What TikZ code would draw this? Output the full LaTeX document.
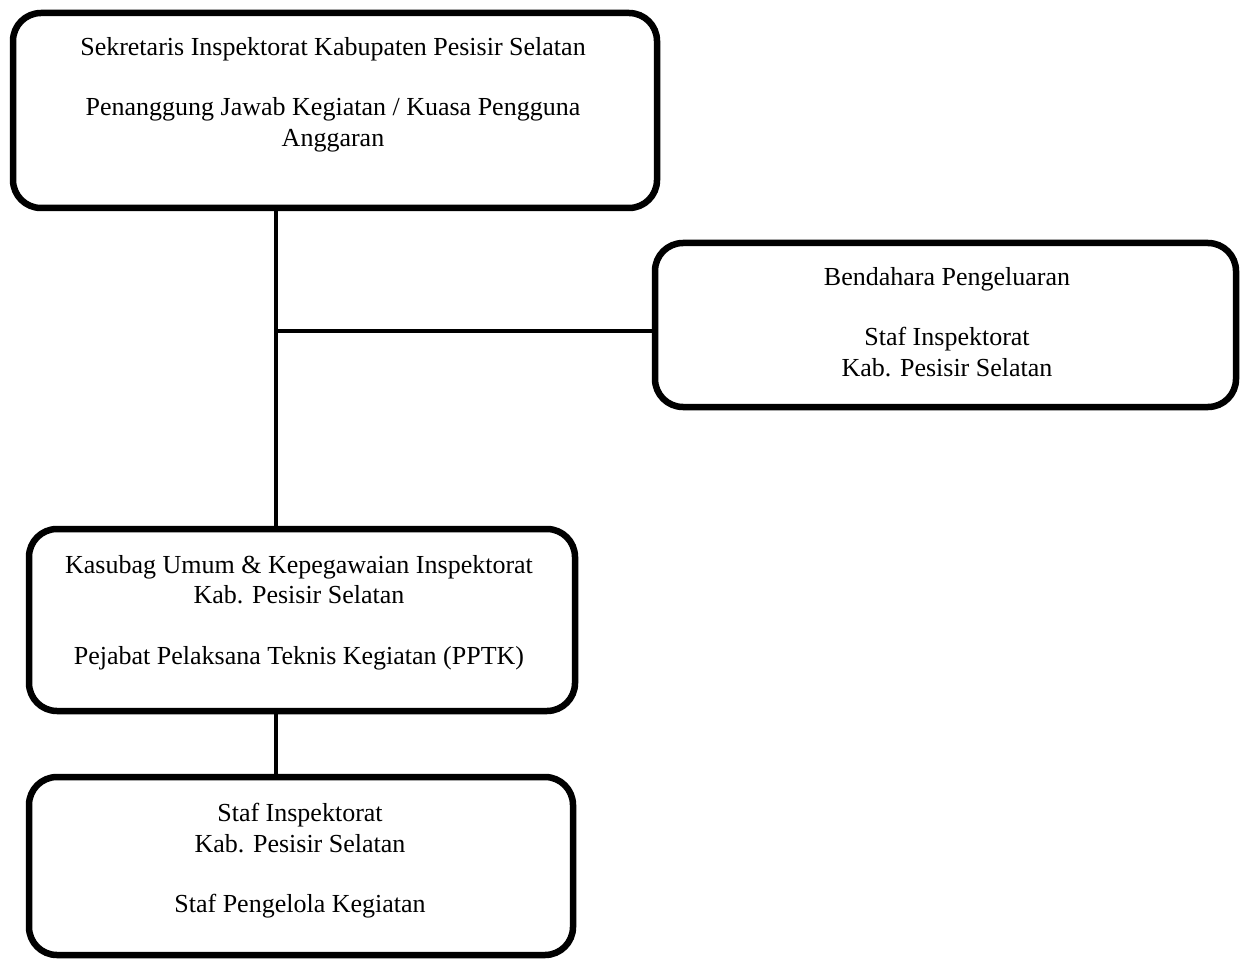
\documentclass[tikz,border=0pt]{standalone}
\usepackage{fontspec}
\setmainfont{Liberation Serif}
\begin{document}
\begin{tikzpicture}[x=1pt,y=-1pt,
  box/.style={draw, line width=6.5pt, rounded corners=28pt, inner sep=0pt},
  conn/.style={line width=3.5pt},
  txt/.style={align=center, font=\fontsize{26}{30.5}\selectfont, inner sep=0pt, anchor=north}]
\useasboundingbox (0,0) rectangle (1246,965);
\node[box, minimum width=644pt, minimum height=195pt] (b1) at (335,110.5) {};
\node[box, minimum width=581pt, minimum height=164pt] (b2) at (945.5,325) {};
\node[box, minimum width=546pt, minimum height=182pt] (b3) at (302,620) {};
\node[box, minimum width=544pt, minimum height=178pt] (b4) at (301,866) {};
\node[txt] (t1) at (333,37) {Sekretaris Inspektorat Kabupaten Pesisir Selatan\\[30pt]Penanggung Jawab Kegiatan / Kuasa Pengguna\\Anggaran};
\node[txt] (t2) at (947,267) {Bendahara Pengeluaran\\[30pt]Staf Inspektorat\\Kab. Pesisir Selatan};
\node[txt] (t3) at (299,555) {Kasubag Umum \& Kepegawaian Inspektorat\\Kab. Pesisir Selatan\\[30pt]Pejabat Pelaksana Teknis Kegiatan (PPTK)};
\node[txt] (t4) at (300,803) {Staf Inspektorat\\Kab. Pesisir Selatan\\[30pt]Staf Pengelola Kegiatan};
\coordinate (j) at (276,331);
\draw[conn] (b1.south -| j) -- (b3.north -| j);
\draw[conn] (j) -- (j -| b2.west);
\draw[conn] (b3.south -| j) -- (b4.north -| j);
\end{tikzpicture}
\end{document}
